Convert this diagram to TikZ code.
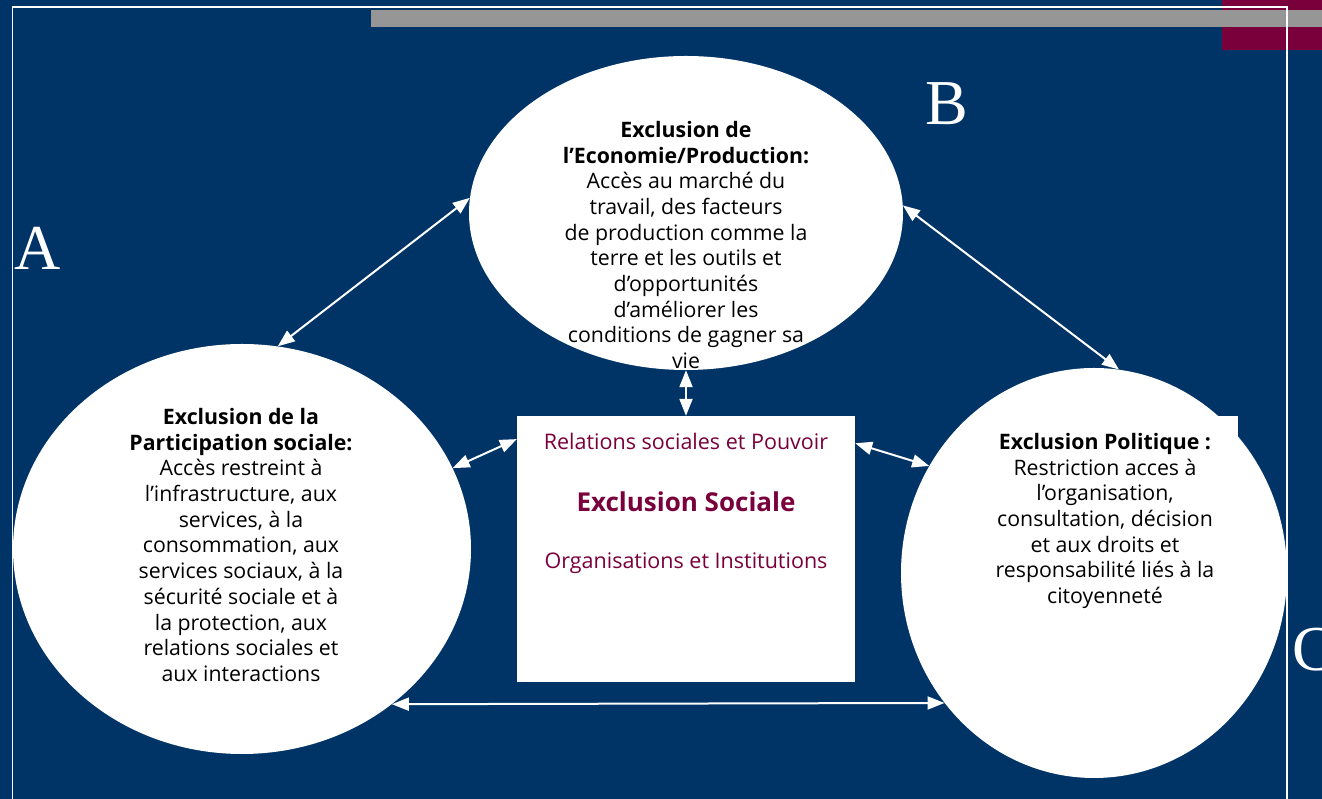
\documentclass[tikz,border=0pt]{standalone}
\usepackage{fontspec}
\setmainfont{Open Sans}
\newfontfamily\letterfont{Liberation Serif}
\usetikzlibrary{shapes.geometric,arrows.meta}
\definecolor{navy}{RGB}{0,52,102}
\definecolor{wine}{RGB}{122,0,60}
\definecolor{barg}{RGB}{150,150,150}
\begin{document}
\begin{tikzpicture}[x=1pt,y=1pt,
  bubble/.style={ellipse, fill=white, draw=none, inner sep=0pt},
  biarrow/.style={draw=white, line width=2pt, {Triangle[length=17pt,width=13pt]}-{Triangle[length=17pt,width=13pt]}},
  bodytext/.style={align=center, font=\fontsize{21.3}{25.7}\selectfont, text=black, inner sep=0pt},
  boxtext/.style={text=wine, font=\fontsize{21.5}{25}\selectfont, inner sep=0pt},
  letter/.style={text=white, font=\letterfont\fontsize{64}{64}\selectfont, inner sep=0pt, anchor=base west},
  frameline/.style={draw=white, line width=1.5pt}]
\useasboundingbox (0,0) rectangle (1322,799);
\clip (0,0) rectangle (1322,799);
% background and top decorations
\fill[navy] (0,0) rectangle (1322,799);
\fill[wine] (1222,749) rectangle (1322,799);
\fill[barg] (371,772) rectangle (1322,789);
\draw[frameline] (12.5,0) -- (12.5,792) -- (1287,792) -- (1287,0);
% shapes
\node[bubble, minimum width=434pt, minimum height=314pt] (B) at (686,586) {};
\node[bubble, minimum width=458pt, minimum height=410pt] (A) at (242,250) {};
\fill[white] (990,250) rectangle (1238,383);
\node[bubble, minimum width=386pt, minimum height=410pt] (C) at (1094,226) {};
\node[fill=white, draw=none, minimum width=338pt, minimum height=266pt, inner sep=0pt] (S) at (686,250) {};
% texts
\node[bodytext] (Bt) at (686,554) {\textbf{Exclusion de}\\\textbf{l’Economie/Production:}\\Accès au marché du\\travail, des facteurs\\de production comme la\\terre et les outils et\\d’opportunités\\d’améliorer les\\conditions de gagner sa\\vie};
\node[bodytext] (At) at (241,254) {\textbf{Exclusion de la}\\\textbf{Participation sociale:}\\Accès restreint à\\l’infrastructure, aux\\services, à la\\consommation, aux\\services sociaux, à la\\sécurité sociale et à\\la protection, aux\\relations sociales et\\aux interactions};
\node[bodytext] (Ct) at (1105,278) {\textbf{Exclusion Politique :}\\Restriction acces à\\l’organisation,\\consultation, décision\\et aux droits et\\responsabilité liés à la\\citoyenneté};
\node[boxtext] (S1) at (686,358) {Relations sociales et Pouvoir};
\node[boxtext, font=\bfseries\fontsize{26}{30}\selectfont] (S2) at (686,297) {Exclusion Sociale};
\node[boxtext] (S3) at (686,236) {Organisations et Institutions};
% letters
\node[letter] (LA) at (14,529) {A};
\node[letter] (LB) at (925,674) {B};
\node[letter] (LC) at (1292,128) {C};
% connectors
\draw[biarrow] (B.176.8) -- (A.80);
\draw[biarrow] (B.2.9) -- (C.83.6);
\draw[biarrow] (B.south) -- (S.north);
\draw[biarrow] (A.21.5) -- (S.147.2);
\draw[biarrow] (S.32.3) -- (C.147.9);
\draw[biarrow] (A.-46.4) -- (C.221.9);
\end{tikzpicture}
\end{document}
